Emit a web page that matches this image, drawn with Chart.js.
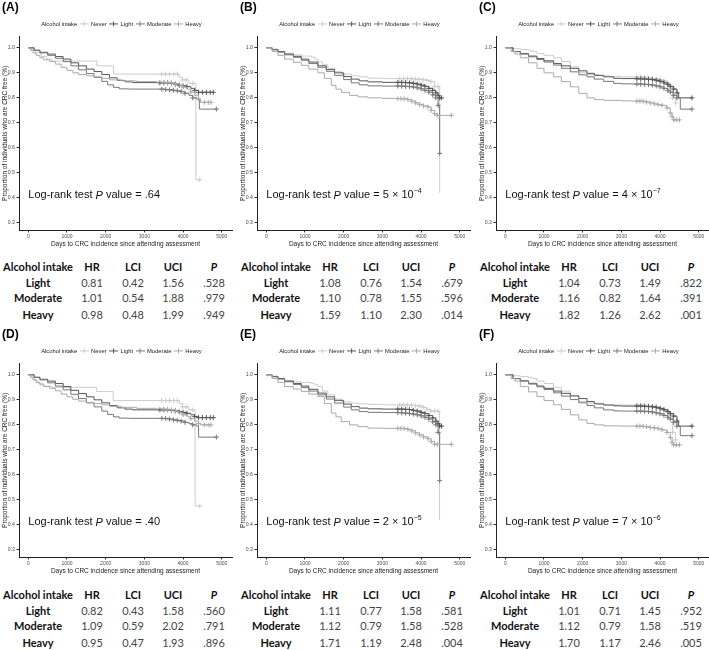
<!DOCTYPE html>
<html>
<head>
<meta charset="utf-8">
<script src="https://cdn.jsdelivr.net/npm/chart.js@4.4.1/dist/chart.umd.min.js"></script>
<style>
html, body { margin: 0; padding: 0; background: #fff; }
body { width: 709px; height: 650px; overflow: hidden; position: relative; font-family: "Liberation Sans", Arial, sans-serif; }
.panel { position: absolute; width: 238px; height: 327px; }
.panel canvas { position: absolute; left: 0; top: 0; }
.tag { position: absolute; left: 2px; top: 1px; font-weight: bold; font-size: 12px; line-height: 12px; color: #000; }
.cell { position: absolute; transform: translate(-50%, -50%); white-space: nowrap; font-family: Lato, "Liberation Sans", sans-serif; font-size: 11px; line-height: 1; }
.cell.b { font-weight: bold; color: #111; }
.cell.v { color: #444; }
</style>
</head>
<body>
<script>
// ---- data: [day, proportion CRC free, censored mark] ----
const GROUPS = ["Never", "Light", "Moderate", "Heavy"];
const X_TICKS = [0, 1000, 2000, 3000, 4000, 5000];
const Y_TICKS = [0.3, 0.4, 0.5, 0.6, 0.7, 0.8, 0.9, 1.0];

const A_never = [[0,1],[90,.99],[200,.98],[330,.965],[480,.955],[600,.947],[1770,.928],[2200,.895],[3450,.895,1],[3550,.895,1],[3650,.895,1],[3760,.895,1],[3850,.895,1],[3900,.882],[3990,.872,1],[4080,.872,1],[4150,.858],[4250,.858,1],[4330,.473],[4430,.473,1]];
const A_light = [[0,1],[150,.99],[300,.982],[500,.975],[700,.965],[900,.955],[1100,.94],[1300,.928],[1500,.915],[1700,.905],[1900,.893],[2100,.88],[2300,.87],[2500,.864],[2700,.861],[3400,.86,1],[3500,.86,1],[3600,.86,1],[3700,.858,1],[3800,.855,1],[3900,.85,1],[4000,.848,1],[4100,.845,1],[4200,.838],[4300,.83,1],[4400,.822,1],[4500,.822,1],[4600,.822,1],[4700,.822,1],[4780,.822,1]];
const A_mod = [[0,1],[150,.99],[300,.98],[500,.97],[700,.958],[900,.945],[1100,.928],[1300,.912],[1500,.897],[1700,.882],[1900,.866],[2050,.852],[2200,.842],[2350,.836],[2600,.835],[3450,.835,1],[3550,.833,1],[3650,.832,1],[3750,.83,1],[3850,.828,1],[3950,.825,1],[4050,.818,1],[4150,.81],[4250,.8,1],[4350,.795],[4420,.755],[4860,.755,1]];
const A_heavy = [[0,1],[60,.99],[120,.98],[200,.97],[300,.96],[400,.952],[550,.945],[700,.935],[850,.922],[1000,.91],[1150,.9],[1300,.893],[1500,.888],[1700,.884],[1900,.878],[2100,.872],[2400,.868],[2800,.865],[3300,.863],[3500,.862,1],[3600,.862,1],[3700,.86,1],[3800,.856,1],[3900,.85],[4000,.843,1],[4100,.835],[4200,.823,1],[4300,.81],[4400,.795,1],[4450,.782],[4550,.782,1],[4650,.782,1],[4720,.782,1]];

const B_never = [[0,1],[150,.995],[300,.985],[473,.978],[700,.972],[904,.967],[1160,.963],[1250,.955],[1334,.944],[1450,.932],[1590,.918],[1765,.905],[1950,.895],[2196,.888],[2400,.884],[2627,.879],[3000,.877],[3450,.877,1],[3550,.877,1],[3650,.877,1],[3750,.876,1],[3850,.875,1],[3950,.874,1],[4050,.872,1],[4150,.87,1],[4250,.865,1],[4350,.845,1],[4440,.845,1],[4480,.42]];
const B_light = [[0,1],[150,.993],[300,.985],[473,.975],[700,.966],[904,.955],[1100,.943],[1334,.928],[1550,.913],[1765,.9],[2000,.885],[2196,.875],[2400,.868],[2627,.864],[3000,.862],[3400,.862,1],[3500,.862,1],[3600,.861,1],[3700,.86,1],[3800,.858,1],[3900,.855,1],[4000,.851,1],[4100,.846,1],[4200,.838,1],[4300,.83,1],[4380,.82,1],[4440,.81,1],[4480,.8,1],[4530,.8,1]];
const B_mod = [[0,1],[150,.992],[300,.983],[473,.972],[700,.962],[904,.95],[1100,.937],[1334,.922],[1550,.906],[1765,.89],[2000,.873],[2196,.86],[2400,.852],[2627,.848],[3000,.847],[3400,.847,1],[3500,.847,1],[3600,.846,1],[3700,.845,1],[3800,.843,1],[3900,.84,1],[4000,.836,1],[4100,.83,1],[4200,.823,1],[4300,.812,1],[4380,.8,1],[4440,.77,1],[4480,.578,1]];
const B_heavy = [[0,1],[150,.985],[300,.97],[473,.955],[700,.942],[904,.93],[1100,.915],[1334,.9],[1500,.878],[1680,.85],[1800,.835],[1938,.822],[2150,.81],[2368,.804],[2627,.8],[3000,.798],[3320,.797],[3400,.797,1],[3480,.797,1],[3560,.796,1],[3660,.793,1],[3760,.787,1],[3860,.78,1],[3960,.774,1],[4060,.768,1],[4177,.764,1],[4260,.75,1],[4349,.737,1],[4420,.73,1],[4780,.73,1]];

const C_never = [[0,1],[200,.996],[388,.993],[600,.99],[700,.985],[818,.977],[1000,.97],[1249,.96],[1450,.945],[1680,.924],[1900,.9],[2111,.893],[2400,.888],[2700,.885],[3000,.884],[3400,.883,1],[3500,.883,1],[3600,.882,1],[3700,.88,1],[3800,.878,1],[3900,.876,1],[4000,.873,1],[4100,.868,1],[4200,.858,1],[4264,.85,1],[4320,.8,1],[4400,.78,1]];
const C_light = [[0,1],[200,.985],[388,.977],[600,.967],[818,.957],[1000,.948],[1249,.937],[1450,.928],[1680,.918],[1900,.908],[2111,.898],[2300,.89],[2541,.884],[2800,.878],[3000,.877],[3300,.877],[3400,.876,1],[3500,.876,1],[3600,.875,1],[3700,.874,1],[3800,.873,1],[3900,.87,1],[4000,.866,1],[4100,.86,1],[4200,.853,1],[4264,.845,1],[4350,.835,1],[4436,.82,1],[4480,.8],[4823,.8,1]];
const C_mod = [[0,1],[200,.985],[388,.975],[600,.964],[818,.953],[1000,.943],[1249,.931],[1450,.918],[1680,.904],[1900,.892],[2111,.884],[2300,.875],[2541,.866],[2800,.858],[3000,.856],[3300,.855],[3400,.855,1],[3500,.855,1],[3600,.854,1],[3700,.853,1],[3800,.851,1],[3900,.848,1],[4000,.844,1],[4100,.838,1],[4200,.83,1],[4264,.823,1],[4350,.81,1],[4436,.8,1],[4522,.755],[4823,.755,1]];
const C_heavy = [[0,1],[150,.985],[250,.975],[388,.96],[600,.94],[818,.918],[1000,.9],[1249,.884],[1450,.865],[1680,.844],[1900,.818],[2111,.8],[2300,.793],[2541,.79],[3000,.788],[3300,.787],[3400,.787,1],[3480,.787,1],[3560,.786,1],[3650,.783,1],[3747,.78,1],[3850,.776,1],[3950,.773,1],[4050,.77,1],[4177,.76,1],[4264,.74,1],[4310,.725,1],[4350,.712,1],[4420,.712,1],[4500,.712,1]];

const D_never = [[0,1],[60,.99],[150,.978],[250,.965],[400,.955],[600,.95],[1766,.933],[2195,.897],[3450,.897,1],[3550,.897,1],[3650,.897,1],[3760,.897,1],[3850,.897,1],[3900,.885],[3990,.872,1],[4080,.872,1],[4150,.86],[4250,.86,1],[4310,.476],[4430,.476,1]];
const D_light = [[0,1],[150,.99],[300,.982],[500,.975],[700,.965],[900,.953],[1100,.938],[1300,.925],[1500,.912],[1700,.9],[1900,.888],[2100,.877],[2300,.868],[2500,.863],[2700,.86],[3400,.86,1],[3500,.86,1],[3600,.86,1],[3700,.858,1],[3800,.856,1],[3900,.852,1],[4000,.85,1],[4100,.846,1],[4200,.84],[4300,.833,1],[4400,.829,1],[4500,.829,1],[4600,.829,1],[4700,.829,1],[4780,.829,1]];
const D_mod = [[0,1],[150,.99],[300,.98],[500,.968],[700,.955],[900,.94],[1100,.922],[1300,.905],[1500,.888],[1700,.872],[1900,.855],[2050,.842],[2200,.832],[2350,.827],[2600,.826],[3450,.826,1],[3550,.825,1],[3650,.823,1],[3750,.82,1],[3850,.818,1],[3950,.815,1],[4050,.81,1],[4150,.805],[4250,.8,1],[4350,.795],[4400,.751],[4860,.751,1]];
const D_heavy = [[0,1],[60,.99],[120,.98],[200,.97],[300,.96],[400,.953],[550,.946],[700,.936],[850,.923],[1000,.912],[1150,.902],[1300,.895],[1500,.89],[1700,.885],[1900,.88],[2100,.874],[2400,.87],[2800,.866],[3300,.864],[3500,.863,1],[3600,.862,1],[3700,.86,1],[3800,.855,1],[3900,.848],[4000,.84,1],[4100,.833],[4200,.825,1],[4300,.815],[4400,.805,1],[4450,.8],[4550,.8,1],[4650,.8,1],[4720,.8,1]];

const E_never = [[0,1],[150,.995],[300,.985],[473,.977],[700,.972],[904,.969],[1160,.966],[1250,.96],[1334,.953],[1450,.935],[1590,.92],[1765,.903],[1950,.892],[2196,.887],[2400,.884],[2627,.882],[3000,.88],[3450,.88,1],[3550,.88,1],[3650,.879,1],[3750,.878,1],[3850,.877,1],[3950,.875,1],[4050,.87,1],[4150,.862,1],[4250,.855,1],[4350,.855,1],[4440,.855,1],[4478,.42]];
const E_light = [[0,1],[150,.993],[300,.985],[473,.975],[700,.965],[904,.955],[1100,.942],[1334,.927],[1550,.912],[1765,.898],[2000,.883],[2196,.873],[2400,.867],[2627,.864],[3000,.863],[3400,.863,1],[3500,.863,1],[3600,.862,1],[3700,.861,1],[3800,.858,1],[3900,.855,1],[4000,.85,1],[4100,.845,1],[4200,.837,1],[4300,.828,1],[4380,.815,1],[4440,.805,1],[4480,.795,1],[4530,.795,1]];
const E_mod = [[0,1],[150,.992],[300,.983],[473,.972],[700,.961],[904,.949],[1100,.935],[1334,.92],[1550,.903],[1765,.887],[2000,.871],[2196,.86],[2400,.853],[2627,.85],[3000,.849],[3400,.849,1],[3500,.848,1],[3600,.847,1],[3700,.845,1],[3800,.843,1],[3900,.84,1],[4000,.836,1],[4100,.83,1],[4200,.823,1],[4300,.812,1],[4380,.8,1],[4440,.77,1],[4480,.577,1]];
const E_heavy = [[0,1],[150,.985],[300,.97],[473,.953],[700,.943],[904,.933],[1100,.923],[1334,.913],[1500,.885],[1680,.847],[1800,.832],[1938,.813],[2150,.8],[2368,.793],[2627,.787],[3000,.786],[3320,.786],[3400,.786,1],[3480,.786,1],[3560,.785,1],[3660,.782,1],[3760,.776,1],[3860,.768,1],[3960,.76,1],[4060,.752,1],[4177,.745,1],[4260,.733,1],[4349,.723,1],[4420,.722,1],[4780,.722,1]];

const F_never = [[0,1],[200,.996],[388,.993],[600,.99],[700,.985],[818,.975],[1000,.965],[1249,.95],[1450,.935],[1680,.915],[1900,.893],[2111,.887],[2400,.882],[2700,.88],[3000,.879],[3400,.879,1],[3500,.879,1],[3600,.878,1],[3700,.877,1],[3800,.875,1],[3900,.872,1],[4000,.868,1],[4100,.862,1],[4200,.852,1],[4264,.84,1],[4320,.77,1],[4400,.74,1]];
const F_light = [[0,1],[200,.985],[388,.976],[600,.966],[818,.955],[1000,.946],[1249,.935],[1450,.926],[1680,.916],[1900,.905],[2111,.893],[2300,.884],[2541,.879],[2800,.876],[3000,.875],[3300,.875],[3400,.875,1],[3500,.875,1],[3600,.874,1],[3700,.873,1],[3800,.872,1],[3900,.869,1],[4000,.865,1],[4100,.86,1],[4200,.853,1],[4264,.845,1],[4350,.835,1],[4436,.815,1],[4480,.795],[4823,.795,1]];
const F_mod = [[0,1],[200,.985],[388,.975],[600,.963],[818,.952],[1000,.941],[1249,.928],[1450,.915],[1680,.901],[1900,.888],[2111,.877],[2300,.868],[2541,.86],[2800,.856],[3000,.855],[3300,.855],[3400,.855,1],[3500,.855,1],[3600,.854,1],[3700,.853,1],[3800,.851,1],[3900,.848,1],[4000,.844,1],[4100,.838,1],[4200,.83,1],[4264,.823,1],[4350,.81,1],[4436,.795,1],[4522,.757],[4823,.757,1]];
const F_heavy = [[0,1],[150,.985],[250,.975],[388,.953],[600,.932],[818,.913],[1000,.897],[1249,.88],[1450,.862],[1680,.84],[1900,.82],[2111,.806],[2300,.8],[2541,.796],[3000,.795],[3300,.795],[3400,.795,1],[3480,.795,1],[3560,.794,1],[3650,.792,1],[3747,.79,1],[3850,.787,1],[3950,.785,1],[4050,.78,1],[4177,.77,1],[4264,.75,1],[4310,.73,1],[4350,.72,1],[4420,.72,1],[4500,.72,1]];

// log-rank P values ("^" marks the exponent)
const P_LOGRANK = [".64", "5 × 10^−4", "4 × 10^−7", ".40", "2 × 10^−5", "7 × 10^−6"];

// Cox tables: HR, LCI, UCI, P  (rows Light, Moderate, Heavy)
const TABLE_ROWS = ["Light", "Moderate", "Heavy"];
const TABLE_HEAD = ["Alcohol intake", "HR", "LCI", "UCI", "P"];
const T_A = [[0.81, 0.42, 1.56, ".528"], [1.01, 0.54, 1.88, ".979"], [0.98, 0.48, 1.99, ".949"]];
const T_B = [[1.08, 0.76, 1.54, ".679"], [1.10, 0.78, 1.55, ".596"], [1.59, 1.10, 2.30, ".014"]];
const T_C = [[1.04, 0.73, 1.49, ".822"], [1.16, 0.82, 1.64, ".391"], [1.82, 1.26, 2.62, ".001"]];
const T_D = [[0.82, 0.43, 1.58, ".560"], [1.09, 0.59, 2.02, ".791"], [0.95, 0.47, 1.93, ".896"]];
const T_E = [[1.11, 0.77, 1.58, ".581"], [1.12, 0.79, 1.58, ".528"], [1.71, 1.19, 2.48, ".004"]];
const T_F = [[1.01, 0.71, 1.45, ".952"], [1.12, 0.79, 1.58, ".519"], [1.70, 1.17, 2.46, ".005"]];

// ---- look ----
const COLORS = ["#cccccc", "#555555", "#777777", "#aaaaaa"];
const FONT = '"Liberation Sans", Arial, sans-serif';
const LOGRANK_AT = [0, 0.41];
const PANEL_LEFT = [0, 238, 477];
const PANEL_TOP = [0, 327];
const TABLE_SHIFT = [0, 1];
const COL_X = [38, 92, 133, 173, 214];
const ROW_DY = [266, 282, 297, 314];

const panels = [
    { tag: "(A)", curves: [A_never, A_light, A_mod, A_heavy], table: T_A },
    { tag: "(B)", curves: [B_never, B_light, B_mod, B_heavy], table: T_B },
    { tag: "(C)", curves: [C_never, C_light, C_mod, C_heavy], table: T_C },
    { tag: "(D)", curves: [D_never, D_light, D_mod, D_heavy], table: T_D },
    { tag: "(E)", curves: [E_never, E_light, E_mod, E_heavy], table: T_E },
    { tag: "(F)", curves: [F_never, F_light, F_mod, F_heavy], table: T_F },
];

function glyph(color) {
    const c = document.createElement("canvas");
    c.width = 9; c.height = 7;
    if (color) {
        const g = c.getContext("2d");
        g.strokeStyle = color; g.lineWidth = 1;
        g.beginPath();
        g.moveTo(0, 3.5); g.lineTo(9, 3.5);
        g.moveTo(4.5, 1); g.lineTo(4.5, 6);
        g.stroke();
    }
    return c;
}
const GLYPHS = COLORS.map(glyph);
const BLANK = glyph(null);

const logRankPlugin = {
    id: "logRank",
    afterDatasetsDraw(chart, args, opts) {
        const { ctx } = chart;
        let x = chart.scales.x.getPixelForValue(LOGRANK_AT[0]);
        const y = chart.scales.y.getPixelForValue(LOGRANK_AT[1]);
        const base = "11px " + FONT;
        ctx.save();
        ctx.fillStyle = "#111";
        ctx.textBaseline = "middle";
        ctx.textAlign = "left";
        const put = (s, font, dy) => {
            ctx.font = font;
            ctx.fillText(s, x, y + (dy || 0));
            x += ctx.measureText(s).width;
        };
        const [m, e] = opts.text.split("^");
        put("Log-rank test ", base);
        put("P", "italic " + base);
        put(" value = " + m, base);
        if (e) put(e, "7px " + FONT, -4);
        ctx.restore();
    }
};

function makeTable(div, rows, shift) {
    const add = (txt, x, y, cls, italic) => {
        const s = document.createElement("span");
        s.className = "cell " + cls;
        s.textContent = txt;
        s.style.left = x + "px";
        s.style.top = (y + shift) + "px";
        if (italic) s.style.fontStyle = "italic";
        div.appendChild(s);
    };
    TABLE_HEAD.forEach((h, j) => add(h, COL_X[j], ROW_DY[0], "b", h === "P"));
    rows.forEach((r, i) => {
        add(TABLE_ROWS[i], COL_X[0], ROW_DY[i + 1], "b");
        r.forEach((v, j) => add(typeof v === "number" ? v.toFixed(2) : v, COL_X[j + 1], ROW_DY[i + 1], "v"));
    });
}

panels.forEach((p, k) => {
    const row = Math.floor(k / 3);
    const div = document.createElement("div");
    div.className = "panel";
    div.style.left = PANEL_LEFT[k % 3] + "px";
    div.style.top = PANEL_TOP[row] + "px";
    document.body.appendChild(div);

    const cv = document.createElement("canvas");
    cv.width = 238; cv.height = 252;
    div.appendChild(cv);

    const tag = document.createElement("div");
    tag.className = "tag";
    tag.textContent = p.tag;
    div.appendChild(tag);

    makeTable(div, p.table, TABLE_SHIFT[row]);

    new Chart(cv.getContext("2d"), {
        type: "line",
        data: {
            datasets: p.curves.map((pts, i) => ({
                label: GROUPS[i],
                data: pts,
                borderColor: COLORS[i],
                backgroundColor: COLORS[i],
                borderWidth: 1,
                stepped: true,
                tension: 0,
                fill: false,
                order: 4 - i,
                pointStyle: "cross",
                pointRadius: (c) => (c.raw && c.raw[2] ? 2.5 : 0),
                pointBorderColor: COLORS[i],
                pointBorderWidth: 1,
            })),
        },
        options: {
            responsive: false,
            animation: false,
            events: [],
            layout: { padding: { top: 18, right: 6, left: 0, bottom: 0 } },
            plugins: {
                tooltip: { enabled: false },
                logRank: { text: P_LOGRANK[k] },
                legend: {
                    position: "top",
                    labels: {
                        usePointStyle: true,
                        pointStyleWidth: 8,
                        padding: 3,
                        color: "#222",
                        font: { family: FONT, size: 5.8 },
                        generateLabels: () => [
                            { text: "Alcohol intake", pointStyle: BLANK, fillStyle: "transparent", strokeStyle: "transparent", lineWidth: 0, hidden: false, fontColor: "#222" },
                            ...GROUPS.map((g, i) => ({ text: g, pointStyle: GLYPHS[i], fillStyle: COLORS[i], strokeStyle: COLORS[i], lineWidth: 1, hidden: false, fontColor: "#222" })),
                        ],
                    },
                },
            },
            scales: {
                x: {
                    type: "linear",
                    min: -240, max: 5264,
                    afterBuildTicks: (s) => { s.ticks = X_TICKS.map((v) => ({ value: v })); },
                    afterFit: (s) => { s.height = 22; },
                    grid: { display: true, drawOnChartArea: false, drawTicks: true, tickLength: 2.5, color: "#333" },
                    border: { display: true, color: "#222", width: 1 },
                    ticks: { font: { family: FONT, size: 5 }, color: "#4d4d4d", padding: 1.5, maxRotation: 0, callback: (v) => String(v) },
                    title: { display: true, text: "Days to CRC incidence since attending assessment", font: { family: FONT, size: 6.5 }, color: "#222", padding: { top: 0, bottom: 4 } },
                },
                y: {
                    min: 0.272, max: 1.044,
                    afterBuildTicks: (s) => { s.ticks = Y_TICKS.map((v) => ({ value: v })); },
                    afterFit: (s) => { s.width = 19; },
                    grid: { display: true, drawOnChartArea: false, drawTicks: true, tickLength: 2.5, color: "#333" },
                    border: { display: true, color: "#222", width: 1 },
                    ticks: { font: { family: FONT, size: 5.2 }, color: "#4d4d4d", padding: 1.5, callback: (v) => v.toFixed(1) },
                    title: { display: true, text: "Proportion of individuals who are CRC free (%)", font: { family: FONT, size: 6.5 }, color: "#222", padding: { top: 1, bottom: 0 } },
                },
            },
        },
        plugins: [logRankPlugin],
    });
});
</script>
</body>
</html>
